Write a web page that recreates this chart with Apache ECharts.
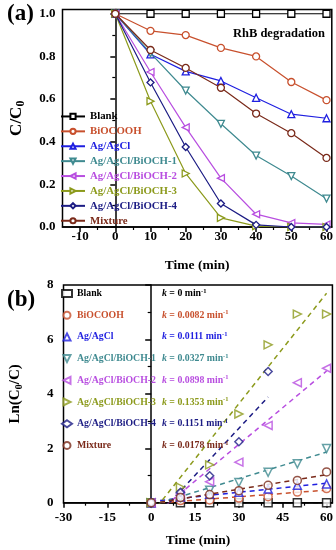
<!DOCTYPE html>
<html><head><meta charset="utf-8">
<script src="https://cdn.jsdelivr.net/npm/echarts@6/dist/echarts.min.js"></script>
<style>html,body{margin:0;padding:0;background:#fff}#c{width:336px;height:550px}</style>
</head><body><div id="c"></div>
<script>
const names = ['Blank','BiOCOOH','Ag/AgCl','Ag/AgCl/BiOCH-1','Ag/AgCl/BiOCH-2','Ag/AgCl/BiOCH-3','Ag/AgCl/BiOCH-4','Mixture'];
const colors = ['#000000','#c8502d','#1f1fe0','#3f8a90','#b84ee0','#8c9a1c','#1c1c84','#7a2a1a'];
const symbols = ['rect','circle','path://M5,0L10,10L0,10Z','path://M0,0L10,0L5,10Z','path://M10,0L10,10L0,5Z','path://M0,0L10,5L0,10Z','diamond','circle'];

// panel (a): C/C0 vs time
const timeA = [0,10,20,30,40,50,60];
const cBlank   = [1,1,1,1,1,1,1];
const cBiOCOOH = [1,0.92,0.90,0.84,0.80,0.68,0.595];
const cAgAgCl  = [1,0.81,0.73,0.685,0.606,0.529,0.51];
const cBiOCH1  = [1,0.815,0.64,0.484,0.335,0.239,0.133];
const cBiOCH2  = [1,0.727,0.467,0.229,0.06,0.019,0.012];
const cBiOCH3  = [1,0.59,0.251,0.043,0.004,0,0];
const cBiOCH4  = [1,0.678,0.375,0.11,0.01,0,0];
const cMixture = [1,0.83,0.746,0.653,0.532,0.44,0.324];
const seriesA = [cBlank,cBiOCOOH,cAgAgCl,cBiOCH1,cBiOCH2,cBiOCH3,cBiOCH4,cMixture];

// panel (b): Ln(C0/C) vs time
const timeB = [0,10,20,30,40,50,60];
const lnBlank   = [0,0,0,0,0,0,0];
const lnBiOCOOH = [0,0.08,0.10,0.17,0.22,0.39,0.52];
const lnAgAgCl  = [0,0.21,0.31,0.38,0.50,0.64,0.69];
const lnBiOCH1  = [0,0.20,0.46,0.74,1.12,1.43,1.99];
const lnBiOCH2  = [0,0.32,0.77,1.49,2.84,4.41,4.94];
const lnBiOCH3  = [0,0.57,1.39,3.26,5.80,6.93,6.93];
const lnBiOCH4  = [0,0.38,0.99,2.24,4.82,null,null];
const lnMixture = [0,0.19,0.30,0.44,0.64,0.82,1.13];
const seriesB = [lnBlank,lnBiOCOOH,lnAgAgCl,lnBiOCH1,lnBiOCH2,lnBiOCH3,lnBiOCH4,lnMixture];
const kValues = [0,0.0082,0.0111,0.0327,0.0898,0.1353,0.1151,0.0178];
const kLabels = ['0','0.0082','0.0111','0.0327','0.0898','0.1353','0.1151','0.0178'];
const fitIntercepts = [0,-0.03,0.05,-0.1,-0.55,-0.42,-0.72,-0.04];
const fitEnd = [60,60,60,60,60,60,40,60];

// tick labels
const xTicksA = [-10,0,10,20,30,40,50,60];
const xMinorA = [-5,5,15,25,35,45,55];
const yTicksA = [0,0.2,0.4,0.6,0.8,1.0];
const yMinorA = [0.1,0.3,0.5,0.7,0.9];
const xTicksB = [-30,-15,0,15,30,45,60];
const xMinorB = [-22.5,-7.5,7.5,22.5,37.5,52.5];
const yTicksB = [0,2,4,6,8];
const yMinorB = [1,3,5,7];

const FF = 'Liberation Serif';
const lab = {fontFamily: FF, fontWeight: 'bold', fontSize: 13, color: '#000'};
const axLine = {show: true, lineStyle: {color: '#000', width: 1.5}};

function mainX(grid, min, max, ticks, margin, gap) {
  return {type: 'value', gridIndex: grid, min, max, position: 'bottom',
    axisLine: axLine, splitLine: {show: false},
    axisTick: {show: true, customValues: ticks, length: 5, lineStyle: {color: '#000', width: 1.5}},
    axisLabel: Object.assign({customValues: ticks, margin: margin}, lab),
    name: 'Time (min)', nameLocation: 'middle', nameGap: gap,
    nameTextStyle: {fontFamily: FF, fontWeight: 'bold', fontSize: 13.5, color: '#000'}};
}
function minorAxis(grid, min, max, ticks, len, pos) {
  return {type: 'value', gridIndex: grid, min, max, position: pos,
    axisLine: {show: false}, splitLine: {show: false},
    axisTick: {show: true, customValues: ticks, length: len, lineStyle: {color: '#000', width: 1.2}},
    axisLabel: {show: false}};
}

const legendAData = names.map((n, i) => ({name: n, textStyle: {color: colors[i]}}));
const legendBData = names.map((n, i) => ({name: 'b:' + n, textStyle: {color: colors[i]}}));

const series = [];
seriesA.forEach((arr, i) => {
  series.push({type: 'line', name: names[i], xAxisIndex: 0, yAxisIndex: 0,
    data: timeA.map((t, j) => [t, arr[j]]),
    symbol: symbols[i], symbolSize: 7,
    lineStyle: {color: colors[i], width: 1.2},
    itemStyle: {color: '#fff', borderColor: colors[i], borderWidth: 1.3},
    z: 2 + i, animation: false});
});
seriesB.forEach((arr, i) => {
  series.push({type: 'line', name: 'fit:' + names[i], xAxisIndex: 2, yAxisIndex: 2,
    data: [[0, fitIntercepts[i]], [fitEnd[i], kValues[i] * fitEnd[i] + fitIntercepts[i]]],
    symbol: 'none', lineStyle: {color: colors[i], width: 1.5, type: [5, 4]}, silent: true, animation: false, z: 1});
});
seriesB.forEach((arr, i) => {
  series.push({type: 'scatter', name: 'b:' + names[i], xAxisIndex: 2, yAxisIndex: 2,
    data: timeB.map((t, j) => [t, arr[j]]).filter(p => p[1] !== null),
    symbol: symbols[i], symbolSize: 8,
    itemStyle: {color: '#fff', borderColor: colors[i], borderWidth: 1.5}, animation: false, z: 3});
});

const richB = {
  n: {width: 85, fontFamily: FF, fontWeight: 'bold', fontSize: 9.8, lineHeight: 12},
  i: {fontFamily: FF, fontWeight: 'bold', fontStyle: 'italic', fontSize: 9.8, lineHeight: 12},
  t: {fontFamily: FF, fontWeight: 'bold', fontSize: 9.8, lineHeight: 12},
  s: {fontFamily: FF, fontWeight: 'bold', fontSize: 6.5, lineHeight: 7, verticalAlign: 'top'}
};

const option = {
  backgroundColor: '#fff',
  animation: false,
  grid: [
    {left: 62, top: 9.5, width: 270, height: 217.5, show: true, borderColor: '#000', borderWidth: 1.5, containLabel: false},
    {left: 60, top: 285, width: 273, height: 217.7, show: true, borderColor: '#000', borderWidth: 1.5, containLabel: false}
  ],
  xAxis: [
    mainX(0, -15, 61.5, xTicksA, 3, 32),
    minorAxis(0, -15, 61.5, xMinorA, 3, 'bottom'),
    mainX(1, -30, 62, xTicksB, 8, 31),
    minorAxis(1, -30, 62, xMinorB, 3, 'bottom')
  ],
  yAxis: [
    {type: 'value', gridIndex: 0, min: 0, max: 1.02, position: 'left', axisLine: axLine, splitLine: {show: false},
      axisTick: {show: true, customValues: yTicksA, length: 5, lineStyle: {color: '#000', width: 1.5}},
      axisLabel: Object.assign({customValues: yTicksA, margin: 7, formatter: v => v.toFixed(1)}, lab),
      name: '{a|C/C}{b|0}', nameLocation: 'middle', nameGap: 36, nameRotate: 90,
      nameTextStyle: {rich: {
        a: {fontFamily: FF, fontWeight: 'bold', fontSize: 17, lineHeight: 20, color: '#000'},
        b: {fontFamily: FF, fontWeight: 'bold', fontSize: 12, lineHeight: 12, verticalAlign: 'bottom', color: '#000'}}}},
    minorAxis(0, 0, 1.02, yMinorA, 3, 'left'),
    {type: 'value', gridIndex: 1, min: 0, max: 8, position: 'left', axisLine: axLine, splitLine: {show: false},
      axisTick: {show: true, customValues: yTicksB, length: 6, lineStyle: {color: '#000', width: 1.5}},
      axisLabel: Object.assign({customValues: yTicksB, margin: 10}, lab),
      name: '{a|Ln(C}{b|0}{a|/C)}', nameLocation: 'middle', nameGap: 39, nameRotate: 90,
      nameTextStyle: {rich: {
        a: {fontFamily: FF, fontWeight: 'bold', fontSize: 15, lineHeight: 18, color: '#000'},
        b: {fontFamily: FF, fontWeight: 'bold', fontSize: 10.5, lineHeight: 10, verticalAlign: 'bottom', color: '#000'}}}},
    minorAxis(1, 0, 8, yMinorB, 3.5, 'left')
  ],
  legend: [
    {data: legendAData, orient: 'vertical', left: 55, top: 105, itemWidth: 24, itemHeight: 6.5, itemGap: 2,
      selectedMode: false,
      textStyle: {fontFamily: FF, fontWeight: 'bold', fontSize: 10.8, lineHeight: 12.9}},
    {data: legendBData, orient: 'vertical', left: 56, top: 282.5, itemWidth: 10, itemHeight: 7, itemGap: 9.7,
      selectedMode: false,
      formatter: nm => {
        const i = names.indexOf(nm.slice(2));
        return '{n|' + names[i] + '}{i|k}{t| = ' + kLabels[i] + ' min}{s|-1}';
      },
      textStyle: {fontFamily: FF, fontWeight: 'bold', fontSize: 9.8, lineHeight: 12, rich: richB}}
  ],
  graphic: [
    {type: 'text', left: 7, top: 3, style: {text: '(a)', font: 'bold 23px "Liberation Serif"', fill: '#000'}},
    {type: 'text', left: 7, top: 289, style: {text: '(b)', font: 'bold 23px "Liberation Serif"', fill: '#000'}},
    {type: 'text', right: 11, top: 27, style: {text: 'RhB degradation', font: 'bold 12.5px "Liberation Serif"', fill: '#000'}}
  ],
  series: series
};
const chart = echarts.init(document.getElementById('c'), null, {renderer: 'canvas'});
chart.setOption(option);
</script></body></html>
